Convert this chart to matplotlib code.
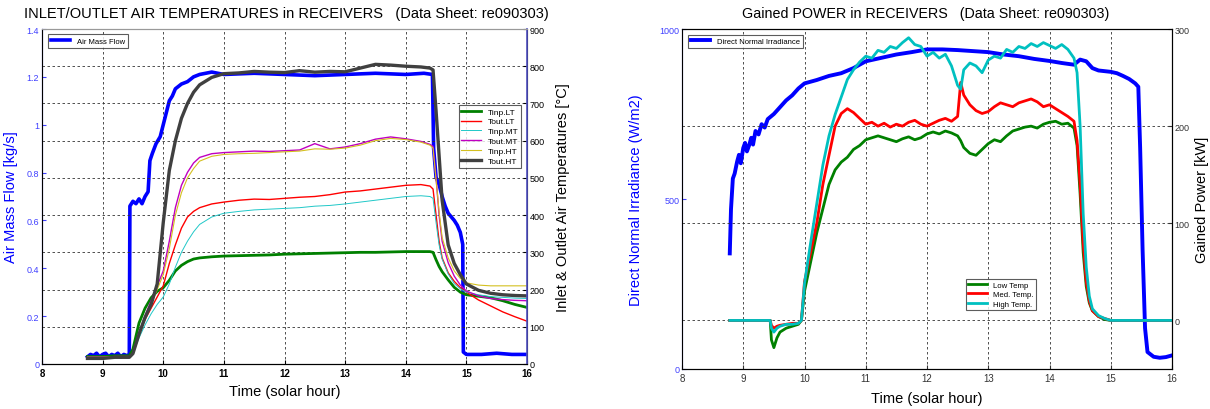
import matplotlib
matplotlib.use("Agg")
import matplotlib.pyplot as plt
from matplotlib.ticker import FuncFormatter

plt.rcParams['font.family'] = ['Liberation Sans', 'DejaVu Sans']

# ---------------- Left chart data ----------------
mf_t = [8.75, 8.8, 8.85, 8.9, 8.95, 9.0, 9.05, 9.1, 9.15, 9.2, 9.25, 9.3, 9.35, 9.4, 9.44,
        9.45, 9.5, 9.55, 9.6, 9.65, 9.7, 9.75, 9.78, 9.82, 9.88, 9.95,
        10.0, 10.05, 10.1, 10.15, 10.2, 10.3, 10.4, 10.5, 10.6, 10.8,
        11.0, 11.5, 12.0, 12.5, 13.0, 13.5, 14.0, 14.3, 14.44,
        14.46, 14.5, 14.55, 14.6, 14.65, 14.7, 14.8, 14.85, 14.9, 14.94,
        14.95, 15.0, 15.25, 15.5, 15.75, 16.0]
mass_flow = [0.03, 0.04, 0.035, 0.045, 0.03, 0.04, 0.045, 0.03, 0.04, 0.035, 0.045, 0.03, 0.04, 0.035, 0.04,
             0.66, 0.68, 0.67, 0.69, 0.67, 0.70, 0.72, 0.85, 0.88, 0.92, 0.95,
             1.0, 1.05, 1.1, 1.12, 1.15, 1.17, 1.18, 1.2, 1.21, 1.22,
             1.21, 1.215, 1.21, 1.205, 1.21, 1.215, 1.21, 1.215, 1.21,
             0.9, 0.78, 0.75, 0.7, 0.66, 0.63, 0.6, 0.58, 0.55, 0.5,
             0.05, 0.04, 0.04, 0.045, 0.04, 0.04]

t_temp = [8.75, 9.0, 9.2, 9.44, 9.5, 9.6, 9.7, 9.8, 9.9, 10.0,
          10.1, 10.2, 10.3, 10.4, 10.5, 10.6, 10.8, 11.0, 11.25, 11.5,
          11.75, 12.0, 12.25, 12.5, 12.75, 13.0, 13.25, 13.5, 13.75, 14.0,
          14.25, 14.4, 14.45, 14.5, 14.55, 14.6, 14.7, 14.8, 14.9, 15.0,
          15.2, 15.4, 15.6, 15.8, 16.0]
tinp_lt = [20, 20, 22, 22, 40, 110, 150, 178, 195, 205,
           225, 250, 265, 275, 282, 285, 288, 290, 291, 292,
           293, 295, 296, 297, 298, 299, 300, 300, 301, 302,
           302, 302, 300, 280, 262, 248, 226, 206, 193, 186,
           182, 178, 170, 160, 152]
tout_lt = [18, 18, 20, 20, 30, 80, 120, 150, 180, 210,
           270, 320, 365, 395, 410, 420, 430, 435, 440, 443,
           442, 445, 448, 450, 455, 462, 465, 470, 475, 480,
           482, 478, 470, 400, 330, 285, 245, 222, 205, 193,
           172, 156, 140, 127, 115]
tinp_mt = [18, 18, 20, 20, 28, 70, 105, 135, 160, 180,
           215, 260, 300, 330, 355, 375, 395, 405, 410, 414,
           416, 418, 420, 424, 426, 430, 435, 440, 445, 450,
           452, 450, 445, 380, 320, 282, 242, 216, 202, 193,
           186, 181, 179, 177, 176]
tout_mt = [18, 18, 20, 20, 30, 85, 130, 170, 210, 250,
           330, 420, 480, 515, 540, 555, 565, 568, 570, 572,
           571, 573, 575, 592, 578, 583, 592, 604, 610, 605,
           598, 590, 585, 500, 400, 330, 272, 236, 212, 196,
           183, 176, 173, 171, 170]
tinp_ht = [18, 18, 20, 20, 28, 75, 120, 160, 200, 240,
           310, 400, 460, 500, 525, 545, 558, 563, 565, 566,
           568, 570, 572, 578, 577, 580, 588, 600, 606, 603,
           596, 588, 580, 495, 410, 340, 285, 250, 230, 218,
           212, 210, 210, 210, 210]
tout_ht = [15, 15, 18, 18, 28, 80, 125, 160, 215, 380,
           520, 600, 660, 700, 730, 750, 770, 780, 782, 786,
           784, 783, 788, 784, 786, 785, 795, 805, 803, 800,
           798, 795, 790, 680, 560, 440, 320, 270, 240, 215,
           198, 190, 186, 184, 183]

# ---------------- Right chart data ----------------
dni_t = [8.78, 8.8, 8.83, 8.86, 8.9, 8.93, 8.96, 9.0, 9.03, 9.06, 9.1, 9.13, 9.16, 9.2,
         9.25, 9.3, 9.35, 9.4, 9.5, 9.6, 9.7, 9.8, 9.9, 10.0, 10.2, 10.4, 10.6, 10.8,
         11.0, 11.25, 11.5, 11.75, 12.0, 12.25, 12.5, 12.75, 13.0, 13.25, 13.5, 13.75,
         14.0, 14.2, 14.4, 14.5, 14.6, 14.7, 14.8, 14.9, 15.0, 15.1, 15.2, 15.3, 15.4,
         15.45, 15.48, 15.52, 15.56, 15.6, 15.7, 15.8, 15.9, 16.0]
dni = [340, 470, 560, 575, 610, 630, 605, 650, 665, 640, 660, 680, 660, 700,
       690, 720, 710, 735, 750, 770, 790, 805, 825, 840, 850, 862, 870, 885,
       905, 915, 925, 932, 940, 940, 938, 935, 932, 925, 920, 912,
       906, 900, 895, 910, 905, 885, 878, 876, 874, 870, 862, 853, 840,
       830, 650, 350, 120, 50, 36, 33, 35, 40]

p_t = [8.78, 9.0, 9.2, 9.44, 9.46, 9.5, 9.55, 9.6, 9.7, 9.8, 9.9, 9.95,
       10.0, 10.1, 10.2, 10.3, 10.4, 10.5, 10.6, 10.7, 10.8, 10.9,
       11.0, 11.1, 11.2, 11.3, 11.4, 11.5, 11.6, 11.7, 11.8, 11.9,
       12.0, 12.1, 12.2, 12.3, 12.4, 12.5, 12.55, 12.6, 12.7, 12.8, 12.9,
       13.0, 13.1, 13.2, 13.3, 13.4, 13.5, 13.6, 13.7, 13.8, 13.9,
       14.0, 14.1, 14.2, 14.3, 14.4, 14.45, 14.5, 14.55, 14.6, 14.65, 14.7, 14.8, 14.9,
       15.0, 15.5, 16.0]
p_low = [0, 0, 0, 0, -20, -28, -18, -12, -8, -6, -4, 0,
         30, 60, 90, 115, 140, 155, 163, 168, 176, 180,
         186, 188, 190, 188, 186, 184, 187, 189, 186, 188,
         192, 194, 192, 195, 193, 190, 185, 178, 172, 170, 176,
         182, 186, 184, 190, 195, 197, 199, 200, 198, 202,
         204, 205, 202, 203, 198, 180, 130, 70, 35, 18, 10, 4, 1,
         0, 0, 0]
p_med = [0, 0, 0, 0, -5, -8, -6, -5, -4, -3, -3, 0,
         40, 70, 100, 140, 170, 200, 213, 218, 214, 208,
         202, 204, 200, 203, 199, 202, 200, 204, 206, 202,
         200, 203, 206, 208, 205, 210, 245, 232, 222, 216, 213,
         215, 220, 224, 222, 220, 224, 226, 228, 225, 220,
         222, 218, 214, 210, 205, 185, 140, 80, 40, 20, 10, 4, 2,
         0, 0, 0]
p_high = [0, 0, 0, 0, -8, -12, -8, -6, -4, -4, -3, 0,
          38, 80, 120, 160, 190, 212, 230, 248, 258, 266,
          272, 270, 278, 276, 282, 280, 286, 291, 284, 282,
          272, 276, 270, 274, 262, 242, 238, 258, 265, 262, 255,
          268, 272, 270, 279, 276, 282, 280, 285, 282, 286,
          283, 280, 284, 279, 270, 255, 200, 110, 55, 25, 12, 5, 2,
          0, 0, 0]

hours = [8, 9, 10, 11, 12, 13, 14, 15, 16]

BLUE = '#0000ff'
GRID = dict(color='#333333', linestyle=(0, (3, 3)), linewidth=0.6)

fig = plt.figure(figsize=(12.1, 4.1), dpi=100)
fig.patch.set_facecolor('white')

def fmt_g(v, pos):
    return '%g' % v

# ================= LEFT =================
axL = fig.add_axes([42/1210, 1-365/410, 485/1210, 335/410])
axL2 = axL.twinx()

axL.plot(mf_t, mass_flow, color=BLUE, lw=2.6, label='Air Mass Flow', zorder=3)
axL.set_xlim(8, 16)
axL.set_ylim(0, 1.4)
axL.set_yticks([0, 0.2, 0.4, 0.6, 0.8, 1.0, 1.2, 1.4])
axL.yaxis.set_major_formatter(FuncFormatter(fmt_g))
axL.set_xticks(hours)
axL.tick_params(axis='y', colors='#4040ff', labelsize=6.5, direction='in', length=3, pad=2)
axL.tick_params(axis='x', labelsize=7, direction='in', length=3, pad=3)
for lbl in axL.get_xticklabels():
    lbl.set_fontweight('bold')
axL.xaxis.grid(True, **GRID)
axL.set_ylabel('Air Mass Flow [kg/s]', color=BLUE, fontsize=10.5, labelpad=6)
axL.set_xlabel('Time (solar hour)', fontsize=10.5, labelpad=4)
axL.legend(loc='upper left', fontsize=5.5, frameon=True, fancybox=False,
           edgecolor='#333333', handlelength=2.5, borderpad=0.4,
           bbox_to_anchor=(0.005, 0.995)).get_frame().set_linewidth(0.8)

axL2.plot(t_temp, tinp_lt, color='#008000', lw=2.0, label='Tinp.LT')
axL2.plot(t_temp, tout_lt, color='#ff0000', lw=1.0, label='Tout.LT')
axL2.plot(t_temp, tinp_mt, color='#20c8c8', lw=0.7, label='Tinp.MT')
axL2.plot(t_temp, tout_mt, color='#c000c0', lw=1.0, label='Tout.MT')
axL2.plot(t_temp, tinp_ht, color='#d4c020', lw=0.8, label='Tinp.HT')
axL2.plot(t_temp, tout_ht, color='#404040', lw=2.4, label='Tout.HT')
axL2.set_ylim(0, 900)
axL2.set_yticks(range(0, 901, 100))
axL2.tick_params(axis='y', labelsize=6.5, direction='in', length=3, pad=2)
axL2.yaxis.grid(True, **GRID)
axL2.set_ylabel('Inlet & Outlet Air Temperatures [°C]', fontsize=10.5, labelpad=8)
leg = axL2.legend(loc='upper right', bbox_to_anchor=(0.997, 0.785), fontsize=6,
                  frameon=True, fancybox=False, edgecolor='#333333',
                  handlelength=2.4, borderpad=0.3, labelspacing=0.25)
leg.get_frame().set_linewidth(0.8)

axL.spines['left'].set_color('#3030ff')
axL2.spines['right'].set_color('#5050c0')
axL2.spines['right'].set_linewidth(1.2)
for a in (axL, axL2):
    a.spines['top'].set_color('#999999')

fig.text(24/1210, 1-14/410, 'INLET/OUTLET AIR TEMPERATURES in RECEIVERS   (Data Sheet: re090303)',
         fontsize=10.5, ha='left', va='center')

# ================= RIGHT =================
axR = fig.add_axes([682/1210, 1-370/410, 490/1210, 340/410])
axR2 = axR.twinx()

axR.plot(dni_t, dni, color=BLUE, lw=2.8, label='Direct Normal Irradiance')
axR.set_xlim(8, 16)
axR.set_ylim(0, 1000)
axR.set_yticks([0, 500, 1000])
axR.set_xticks(hours)
axR.tick_params(axis='y', colors='#4040ff', labelsize=6.5, direction='in', length=3, pad=2)
axR.tick_params(axis='x', labelsize=7, colors='#333333', direction='in', length=3, pad=3)
axR.xaxis.grid(True, **GRID)
axR.set_ylabel('Direct Normal Irradiance (W/m2)', color=BLUE, fontsize=10.5, labelpad=12)
axR.set_xlabel('Time (solar hour)', fontsize=10.5, labelpad=6)
lg = axR.legend(loc='upper left', fontsize=5.5, frameon=True, fancybox=False,
                edgecolor='#333333', handlelength=2.5, borderpad=0.4,
                bbox_to_anchor=(0.005, 0.995))
lg.get_frame().set_linewidth(0.8)

axR2.plot(p_t, p_low, color='#008000', lw=2.0, label='Low Temp')
axR2.plot(p_t, p_med, color='#ff0000', lw=2.0, label='Med. Temp.')
axR2.plot(p_t, p_high, color='#00c0c0', lw=2.0, label='High Temp.')
axR2.set_ylim(-50, 300)
axR2.set_yticks([0, 100, 200, 300])
axR2.tick_params(axis='y', labelsize=6.5, colors='#333333', direction='in', length=3, pad=2)
axR2.yaxis.grid(True, **GRID)
axR2.set_ylabel('Gained Power [kW]', fontsize=10.5, labelpad=4)
lg2 = axR2.legend(loc='upper left', bbox_to_anchor=(0.571, 0.276), fontsize=5.6,
                  frameon=True, fancybox=False, edgecolor='#333333',
                  handlelength=2.4, borderpad=0.3, labelspacing=0.25)
lg2.get_frame().set_linewidth(0.8)

axR.spines['left'].set_color('#6060ff')

fig.text(926/1210, 1-14/410, 'Gained POWER in RECEIVERS   (Data Sheet: re090303)',
         fontsize=10.3, ha='center', va='center')

fig.savefig('out.png', dpi=100)
